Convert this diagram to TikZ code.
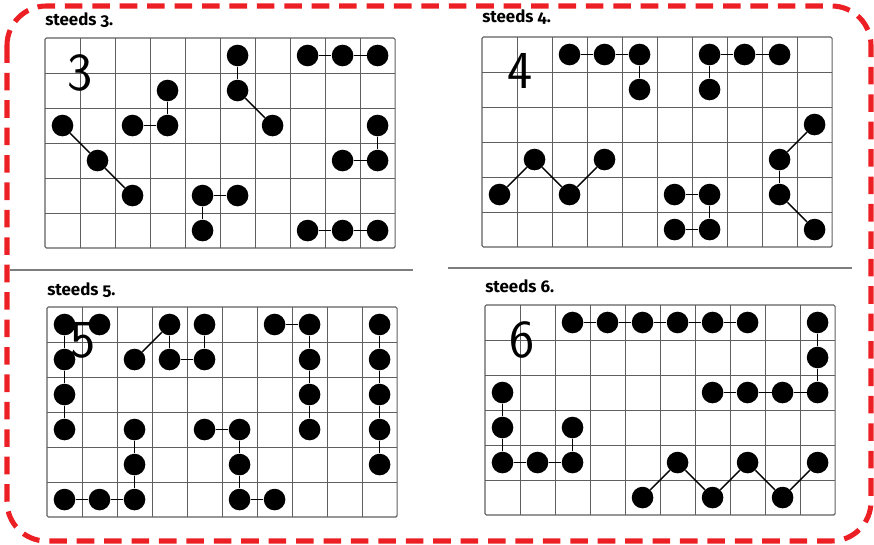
\documentclass[tikz,border=0pt]{standalone}
\usepackage{fontspec}
\setmainfont{Fira Sans}[Numbers=OldStyle]
\usepackage{tikz}
\usetikzlibrary{positioning}
\definecolor{bordclr}{RGB}{236,32,36}
\definecolor{gridclr}{RGB}{95,95,95}
\definecolor{sepclr}{RGB}{125,125,125}
\tikzset{
    peg/.style={circle,fill=black,minimum size=5.4mm,inner sep=0pt},
    link/.style={line width=1pt},
    gridln/.style={draw=gridclr,line width=0.5pt},
    gridframe/.style={draw=gridclr,line width=0.8pt,rounded corners=1pt},
    title/.style={anchor=base west,font=\bfseries\fontsize{12}{14}\selectfont,inner sep=0pt},
    hand/.style={font=\sffamily\fontsize{38}{38}\selectfont,inner sep=0pt},
    redborder/.style={draw=bordclr,line width=3.6pt,dash pattern=on 12.5pt off 7pt,rounded corners=28pt},
    sepline/.style={draw=sepclr,line width=1.2pt},
}

\begin{document}
\begin{tikzpicture}[x=0.025cm,y=-0.025cm]
\useasboundingbox (0,0) rectangle (874,545);
% outer frame and separators
\draw[redborder] (7,6) rectangle (871,541);
\draw[sepline] (10,270) -- (413,270);
\draw[sepline] (448,268) -- (852,268);

% steeds 3
\begin{scope}[shift={(45,38)},x=0.875cm,y=-0.875cm]
\node[title] (t3) at (0,-0.37) {steeds 3.};
\foreach \i in {1,...,9} \draw[gridln] (\i,0) -- (\i,6);
\foreach \j in {1,...,5} \draw[gridln] (0,\j) -- (10,\j);
\draw[gridframe] (0,0) rectangle (10,6);
\node[hand] (n3) at (1,1) {3};
\foreach \c/\r in {5/0,7/0,8/0,9/0,3/1,5/1,0/2,2/2,3/2,6/2,9/2,1/3,8/3,9/3,2/4,4/4,5/4,4/5,7/5,8/5,9/5}
    \node[peg] (s3-\c-\r) at (\c+.5,\r+.5) {};
\foreach \a/\b in {5-0/5-1,5-1/6-2,7-0/8-0,8-0/9-0,3-1/3-2,2-2/3-2,0-2/1-3,1-3/2-4,9-2/9-3,8-3/9-3,4-4/5-4,4-4/4-5,7-5/8-5,8-5/9-5}
    \draw[link] (s3-\a) -- (s3-\b);
\end{scope}

% steeds 4
\begin{scope}[shift={(482,37)},x=0.875cm,y=-0.875cm]
\node[title] (t4) at (0,-0.4) {steeds 4.};
\foreach \i in {1,...,9} \draw[gridln] (\i,0) -- (\i,6);
\foreach \j in {1,...,5} \draw[gridln] (0,\j) -- (10,\j);
\draw[gridframe] (0,0) rectangle (10,6);
\node[hand] (n4) at (1.09,0.97) {4};
\foreach \c/\r in {2/0,3/0,4/0,6/0,7/0,8/0,4/1,6/1,9/2,1/3,3/3,8/3,0/4,2/4,5/4,6/4,8/4,5/5,6/5,9/5}
    \node[peg] (s4-\c-\r) at (\c+.5,\r+.5) {};
\foreach \a/\b in {2-0/3-0,3-0/4-0,4-0/4-1,6-0/7-0,7-0/8-0,6-0/6-1,9-2/8-3,8-3/8-4,8-4/9-5,0-4/1-3,1-3/2-4,2-4/3-3,5-4/6-4,6-4/6-5,5-5/6-5}
    \draw[link] (s4-\a) -- (s4-\b);
\end{scope}

% steeds 5
\begin{scope}[shift={(47,307)},x=0.875cm,y=-0.875cm]
\node[title] (t5) at (0,-0.34) {steeds 5.};
\foreach \i in {1,...,9} \draw[gridln] (\i,0) -- (\i,6);
\foreach \j in {1,...,5} \draw[gridln] (0,\j) -- (10,\j);
\draw[gridframe] (0,0) rectangle (10,6);
\foreach \c/\r in {0/0,1/0,3/0,4/0,6/0,7/0,9/0,0/1,2/1,3/1,4/1,7/1,9/1,0/2,7/2,9/2,0/3,2/3,4/3,5/3,7/3,9/3,2/4,5/4,9/4,0/5,1/5,2/5,5/5,6/5}
    \node[peg] (s5-\c-\r) at (\c+.5,\r+.5) {};
\foreach \a/\b in {0-0/1-0,0-0/0-1,0-1/0-2,0-2/0-3,3-0/2-1,3-0/3-1,3-1/4-1,4-0/4-1,6-0/7-0,7-0/7-1,7-1/7-2,7-2/7-3,9-0/9-1,9-1/9-2,9-2/9-3,9-3/9-4,2-3/2-4,2-4/2-5,0-5/1-5,1-5/2-5,4-3/5-3,5-3/5-4,5-4/5-5,5-5/6-5}
    \draw[link] (s5-\a) -- (s5-\b);
\node[hand] (n5) at (1.03,0.94) {5};
\end{scope}

% steeds 6
\begin{scope}[shift={(485,305)},x=0.875cm,y=-0.875cm]
\node[title] (t6) at (0,-0.37) {steeds 6.};
\foreach \i in {1,...,9} \draw[gridln] (\i,0) -- (\i,6);
\foreach \j in {1,...,5} \draw[gridln] (0,\j) -- (10,\j);
\draw[gridframe] (0,0) rectangle (10,6);
\node[hand] (n6) at (1.06,1.0) {6};
\foreach \c/\r in {2/0,3/0,4/0,5/0,6/0,7/0,9/0,9/1,0/2,6/2,7/2,8/2,9/2,0/3,2/3,0/4,1/4,2/4,5/4,7/4,9/4,4/5,6/5,8/5}
    \node[peg] (s6-\c-\r) at (\c+.5,\r+.5) {};
\foreach \a/\b in {2-0/3-0,3-0/4-0,4-0/5-0,5-0/6-0,6-0/7-0,9-0/9-1,9-1/9-2,6-2/7-2,7-2/8-2,8-2/9-2,0-2/0-3,0-3/0-4,0-4/1-4,1-4/2-4,2-3/2-4,4-5/5-4,5-4/6-5,6-5/7-4,7-4/8-5,8-5/9-4}
    \draw[link] (s6-\a) -- (s6-\b);
\end{scope}
\end{tikzpicture}
\end{document}
